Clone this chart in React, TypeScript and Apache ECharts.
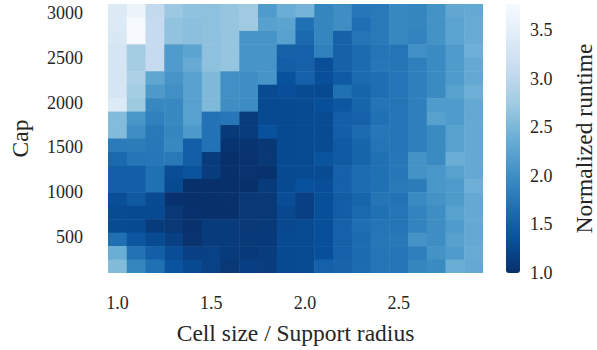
import React, { useEffect, useRef } from "react";
import * as echarts from "echarts";

// Cell size / Support radius (columns)
const cellSizes = [1.0, 1.1, 1.2, 1.3, 1.4, 1.5, 1.6, 1.7, 1.8, 1.9, 2.0, 2.1, 2.2, 2.3, 2.4, 2.5, 2.6, 2.7, 2.8, 2.9];
// Cap values (rows, top to bottom)
const caps = [3025, 2875, 2725, 2575, 2425, 2275, 2125, 1975, 1825, 1675, 1525, 1375, 1225, 1075, 925, 775, 625, 475, 325, 175];

// Normalized runtime, one array per cell-size column, rows top (high cap) to bottom
const col10 = [3.4, 3.4, 3.35, 3.3, 3.3, 3.3, 3.3, 3.4, 2.55, 2.55, 1.8, 1.6, 1.5, 1.5, 1.32, 1.28, 1.28, 1.67, 2.38, 2.55];
const col11 = [3.6, 3.75, 3.75, 2.78, 2.78, 2.85, 2.78, 2.73, 2.1, 2.0, 1.82, 1.73, 1.5, 1.5, 1.43, 1.27, 1.27, 1.4, 1.7, 1.9];
const col12 = [3.05, 3.08, 3.08, 3.08, 3.08, 2.28, 2.12, 1.92, 1.85, 1.78, 1.77, 1.75, 1.68, 1.68, 1.28, 1.27, 1.12, 1.28, 1.5, 1.68];
const col13 = [2.72, 2.65, 2.65, 2.15, 2.15, 2.08, 2.02, 1.93, 1.93, 1.9, 1.93, 1.78, 1.3, 1.27, 1.02, 1.08, 1.08, 1.17, 1.3, 1.37];
const col14 = [2.63, 2.6, 2.6, 2.25, 2.35, 2.22, 2.22, 2.22, 2.22, 2.12, 1.5, 1.5, 1.38, 1.0, 1.0, 1.02, 1.02, 1.03, 1.17, 1.27];
const col15 = [2.62, 2.62, 2.62, 2.62, 2.62, 2.52, 2.52, 2.52, 1.7, 1.7, 1.7, 1.13, 1.13, 1.0, 1.0, 1.0, 1.12, 1.12, 1.18, 1.18];
const col16 = [2.68, 2.68, 2.67, 2.67, 2.67, 2.02, 2.02, 2.0, 1.75, 1.1, 1.05, 1.0, 1.0, 1.0, 1.02, 1.0, 1.12, 1.12, 1.12, 1.08];
const col17 = [2.74, 2.74, 2.08, 2.08, 2.08, 2.0, 2.0, 1.98, 1.13, 1.13, 1.04, 1.03, 1.03, 1.0, 1.08, 1.08, 1.08, 1.1, 1.1, 1.16];
const col18 = [2.15, 2.22, 2.08, 2.08, 2.08, 2.08, 1.28, 1.27, 1.27, 1.35, 1.08, 1.08, 1.02, 1.12, 1.08, 1.08, 1.1, 1.1, 1.13, 1.15];
const col19 = [2.38, 2.26, 2.22, 1.53, 1.5, 1.35, 1.32, 1.27, 1.27, 1.27, 1.27, 1.27, 1.27, 1.27, 1.3, 1.25, 1.25, 1.27, 1.27, 1.27];
const col20 = [2.45, 1.68, 1.6, 1.52, 1.52, 1.52, 1.28, 1.28, 1.28, 1.28, 1.28, 1.28, 1.28, 1.35, 1.17, 1.17, 1.28, 1.28, 1.28, 1.28];
const col21 = [1.9, 1.9, 1.9, 1.85, 1.32, 1.32, 1.27, 1.33, 1.28, 1.28, 1.28, 1.38, 1.28, 1.32, 1.33, 1.33, 1.33, 1.33, 1.33, 1.52];
const col22 = [2.0, 2.0, 1.53, 1.53, 1.53, 1.45, 1.68, 1.4, 1.5, 1.5, 1.45, 1.45, 1.52, 1.52, 1.48, 1.48, 1.52, 1.52, 1.52, 1.55];
const col23 = [1.76, 1.66, 1.72, 1.62, 1.62, 1.62, 1.56, 1.56, 1.52, 1.62, 1.56, 1.56, 1.64, 1.64, 1.56, 1.6, 1.66, 1.62, 1.62, 1.64];
const col24 = [1.78, 1.78, 1.78, 1.72, 1.76, 1.66, 1.66, 1.72, 1.68, 1.76, 1.72, 1.68, 1.68, 1.68, 1.72, 1.68, 1.72, 1.76, 1.72, 1.72];
const col25 = [1.92, 1.92, 1.92, 1.72, 1.72, 1.72, 1.72, 1.72, 1.72, 1.72, 1.72, 1.76, 1.76, 1.78, 1.7, 1.72, 1.72, 1.78, 1.72, 1.72];
const col26 = [1.9, 1.9, 1.88, 2.02, 1.84, 1.84, 1.84, 1.84, 1.84, 1.84, 1.84, 2.05, 2.05, 1.82, 1.97, 1.88, 1.88, 2.05, 1.84, 1.9];
const col27 = [2.05, 2.05, 2.05, 1.97, 1.97, 1.97, 1.97, 2.15, 2.22, 1.97, 1.97, 1.97, 2.1, 2.1, 2.05, 2.0, 2.0, 2.0, 2.05, 1.97];
const col28 = [2.3, 2.25, 2.25, 2.15, 2.15, 2.15, 2.22, 2.15, 2.15, 2.22, 2.22, 2.38, 2.22, 2.14, 2.14, 2.22, 2.15, 2.22, 2.15, 2.38];
const col29 = [2.32, 2.35, 2.35, 2.4, 2.32, 2.32, 2.4, 2.32, 2.32, 2.32, 2.32, 2.32, 2.32, 2.4, 2.32, 2.32, 2.32, 2.32, 2.35, 2.32];

const columns = [col10, col11, col12, col13, col14, col15, col16, col17, col18, col19, col20, col21, col22, col23, col24, col25, col26, col27, col28, col29];

const xTicks = [1.0, 1.5, 2.0, 2.5];
const yTicks = [500, 1000, 1500, 2000, 2500, 3000];
const cbarMin = 1.0;
const cbarMax = 3.77;

const blues = ["#08306b", "#08519c", "#2171b5", "#4292c6", "#6baed6", "#9ecae1", "#c6dbef", "#deebf7", "#f7fbff"];

const FONT = "Liberation Serif";
const TXT = "#262626";

export default function App() {
  const ref = useRef<HTMLDivElement>(null);
  useEffect(() => {
    if (!ref.current) return;
    const chart = echarts.init(ref.current, null, { renderer: "svg" });
    const data: number[][] = [];
    columns.forEach((col, i) => {
      col.forEach((v, j) => {
        data.push([cellSizes[i], caps[j], v]);
      });
    });
    const halfW = (cellSizes[1] - cellSizes[0]) / 2;
    const halfH = (caps[0] - caps[1]) / 2;
    const xMin = cellSizes[0] - halfW;
    const xMax = cellSizes[cellSizes.length - 1] + halfW;
    const yMin = caps[caps.length - 1] - halfH;
    const yMax = caps[0] + halfH;

    chart.setOption({
      animation: false,
      grid: [
        { left: 105, top: 4, width: 378, height: 269 },
        { left: 506, top: 4, width: 14, height: 269 },
      ],
      xAxis: [
        {
          type: "value",
          gridIndex: 0,
          min: xMin,
          max: xMax,
          axisLine: { show: false },
          axisTick: { show: false },
          splitLine: { show: false },
          axisLabel: {
            customValues: xTicks,
            formatter: (v: number) => v.toFixed(1),
            color: TXT,
            fontFamily: FONT,
            fontSize: 18,
            margin: 21,
          },
          name: "Cell size / Support radius",
          nameLocation: "middle",
          nameGap: 48,
          nameTextStyle: { color: TXT, fontFamily: FONT, fontSize: 23.5 },
        },
        {
          type: "value",
          gridIndex: 1,
          show: false,
          min: 0,
          max: 1,
        },
      ],
      yAxis: [
        {
          type: "value",
          gridIndex: 0,
          min: yMin,
          max: yMax,
          axisLine: { show: false },
          axisTick: { show: false },
          splitLine: { show: false },
          axisLabel: {
            customValues: yTicks,
            formatter: (v: number) => String(v),
            color: TXT,
            fontFamily: FONT,
            fontSize: 18,
            margin: 25,
          },
          name: "Cap",
          nameLocation: "middle",
          nameRotate: 90,
          nameGap: 76,
          nameTextStyle: { color: TXT, fontFamily: FONT, fontSize: 23.5 },
        },
        {
          type: "value",
          gridIndex: 1,
          position: "right",
          min: cbarMin,
          max: cbarMax,
          interval: 0.5,
          axisLine: { show: false },
          axisTick: { show: false },
          splitLine: { show: false },
          axisLabel: {
            showMaxLabel: false,
            formatter: (v: number) => v.toFixed(1),
            color: TXT,
            fontFamily: FONT,
            fontSize: 18,
            margin: 17,
          },
          name: "Normalized runtime",
          nameLocation: "middle",
          nameRotate: 90,
          nameGap: 59,
          nameTextStyle: { color: TXT, fontFamily: FONT, fontSize: 23.5 },
        },
      ],
      visualMap: {
        type: "continuous",
        min: cbarMin,
        max: cbarMax,
        dimension: 2,
        seriesIndex: 0,
        calculable: false,
        left: 506,
        top: 4,
        padding: 0,
        itemWidth: 14,
        itemHeight: 269,
        text: ["", ""],
        showLabel: false,
        inRange: { color: blues },
      },
      series: [
        {
          type: "custom",
          xAxisIndex: 0,
          yAxisIndex: 0,
          clip: true,
          data,
          renderItem: (params: any, api: any) => {
            const x = api.value(0);
            const y = api.value(1);
            const p0 = api.coord([x - halfW, y + halfH]);
            const p1 = api.coord([x + halfW, y - halfH]);
            return {
              type: "rect",
              shape: {
                x: p0[0],
                y: p0[1],
                width: p1[0] - p0[0] + 0.5,
                height: p1[1] - p0[1] + 0.5,
              },
              style: { fill: api.visual("color") },
            };
          },
        },
      ],
    });
    return () => chart.dispose();
  }, []);
  return <div ref={ref} style={{ position: "absolute", left: 0, top: 0, width: 597, height: 350 }} />;
}
